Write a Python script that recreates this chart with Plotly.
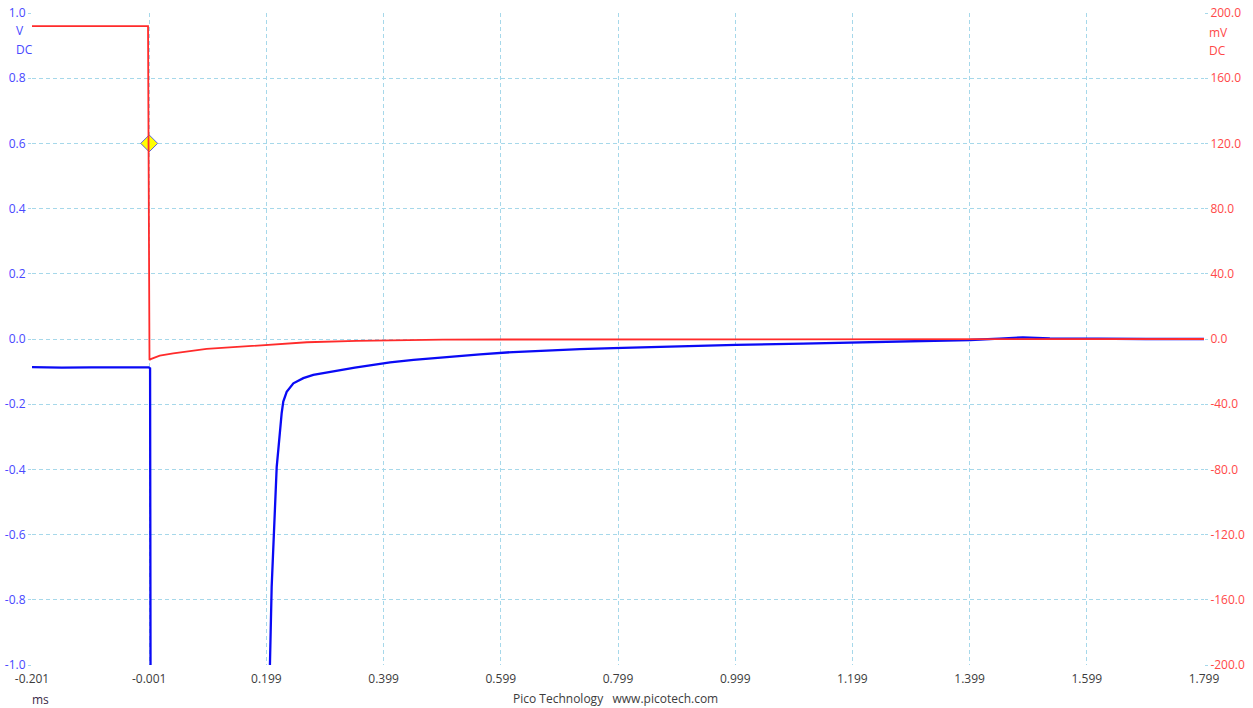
import plotly.graph_objects as go

# Channel B (blue, volts) - time in ms
blue_t = [-0.201, -0.15, -0.10, -0.05, -0.002, 0.0005, 0.0015, 0.204, 0.205, 0.208,
          0.2108, 0.2137, 0.2166, 0.2193, 0.2222, 0.225, 0.2278, 0.2336, 0.245, 0.262,
          0.279, 0.30, 0.3246, 0.35, 0.3758, 0.41, 0.45, 0.507, 0.5635, 0.62, 0.677,
          0.734, 0.791, 0.848, 0.905, 1.0, 1.115, 1.229, 1.343, 1.40, 1.45,
          1.49, 1.536, 1.62, 1.70, 1.799]
blue_v = [-0.086, -0.088, -0.087, -0.088, -0.087, -0.09, -1.3, -1.3, -1.0, -0.76,
          -0.637, -0.484, -0.392, -0.34, -0.279, -0.228, -0.192, -0.162, -0.136, -0.12,
          -0.11, -0.103, -0.096, -0.088, -0.081, -0.072, -0.064, -0.055, -0.047, -0.040, -0.035,
          -0.031, -0.028, -0.025, -0.022, -0.018, -0.014, -0.010, -0.006, -0.003, 0.001,
          0.005, 0.002, 0.0, 0.0, 0.0]

# Channel A (red, millivolts)
red_t = [-0.201, -0.003, -0.0005, 0.0005, 0.017, 0.040, 0.097, 0.154, 0.200, 0.268,
         0.353, 0.41, 0.50, 0.60, 0.80, 1.00, 1.20, 1.40, 1.60, 1.799]
red_mv = [192, 192, -12.9, -12.5, -10.2, -8.8, -6.1, -4.7, -3.3, -2.0,
          -1.2, -0.8, -0.4, -0.3, -0.2, -0.2, -0.1, 0.0, 0.0, 0.0]

# Trigger point
trigger_t = [-0.001]
trigger_v = [0.6]

x_ticks = ["-0.201", "-0.001", "0.199", "0.399", "0.599", "0.799",
           "0.999", "1.199", "1.399", "1.599", "1.799"]
left_ticks = ["1.0", "0.8", "0.6", "0.4", "0.2", "0.0",
              "-0.2", "-0.4", "-0.6", "-0.8", "-1.0"]
right_ticks = ["200.0", "160.0", "120.0", "80.0", "40.0", "0.0",
               "-40.0", "-80.0", "-120.0", "-160.0", "-200.0"]

BLUE = "#0a0af5"
RED = "#ff2b2b"
GRID = "#a6d8ea"
FONT = "Open Sans"

fig = go.Figure()
fig.add_trace(go.Scatter(x=red_t, y=red_mv, mode="lines", yaxis="y2",
                         line=dict(color=RED, width=1.8), showlegend=False))
fig.add_trace(go.Scatter(x=blue_t, y=blue_v, mode="lines",
                         line=dict(color=BLUE, width=2.3), showlegend=False))
fig.add_trace(go.Scatter(x=trigger_t, y=trigger_v, mode="markers",
                         marker=dict(symbol="diamond", size=13, color="#ffff00",
                                     line=dict(color="#6060d0", width=1)),
                         showlegend=False))

fig.update_layout(
    width=1253, height=708,
    margin=dict(l=32, r=49, t=13, b=43),
    paper_bgcolor="white", plot_bgcolor="white",
    font=dict(family=FONT, size=12),
    xaxis=dict(range=[-0.201, 1.799], tickvals=[float(v) for v in x_ticks],
               ticktext=x_ticks, showgrid=True, gridcolor=GRID, griddash="4px,3px",
               gridwidth=1, zeroline=False, showline=False, ticks="", automargin=False,
               tickfont=dict(color="#3c3c3c", size=12), ticklabelstandoff=5),
    yaxis=dict(range=[-1, 1], tickvals=[float(v) for v in left_ticks],
               ticktext=left_ticks, showgrid=True, gridcolor=GRID, griddash="4px,3px",
               gridwidth=1, zeroline=False, showline=False, ticks="outside", automargin=False,
               ticklen=3, tickcolor=GRID, tickfont=dict(color="#4848ff", size=12)),
    yaxis2=dict(range=[-200, 200], tickvals=[float(v) for v in right_ticks],
                ticktext=right_ticks, overlaying="y", side="right", showgrid=False,
                zeroline=False, showline=False, ticks="outside", ticklen=3, automargin=False,
                tickcolor=GRID, tickfont=dict(color="#ff4848", size=12)),
)

def px_x(p):
    return (p - 32) / 1172

def px_y(p):
    return (665 - p) / 652

notes = [
    ("V", 14, 31, "left", "#4848ff"),
    ("DC", 14, 49, "left", "#4848ff"),
    ("mV", 1207, 32, "left", "#ff4848"),
    ("DC", 1207, 50, "left", "#ff4848"),
    ("ms", 40, 699, "center", "#3a2a48"),
    ("Pico Technology   www.picotech.com", 615, 698, "center", "#3c3c3c"),
]
for text, x, y, anchor, color in notes:
    fig.add_annotation(text=text, x=px_x(x), y=px_y(y), xref="paper", yref="paper",
                       xanchor=anchor, yanchor="middle", showarrow=False,
                       font=dict(color=color, size=12, family=FONT))

fig.write_html("out.html")
